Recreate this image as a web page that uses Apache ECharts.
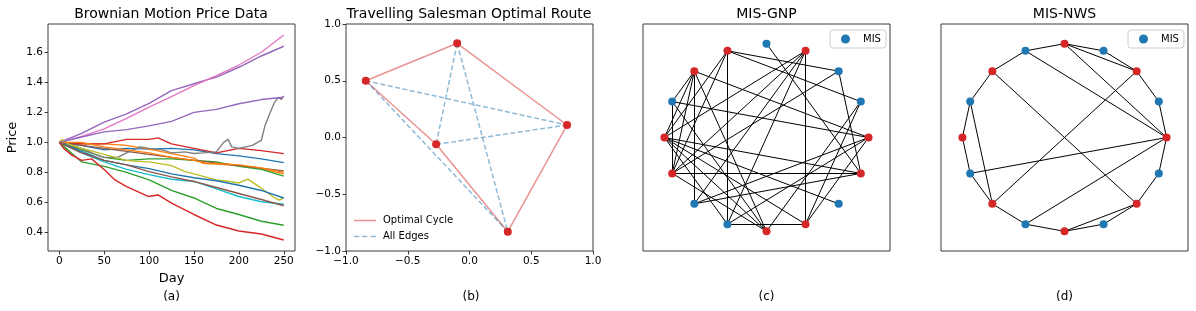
<!DOCTYPE html>
<html>
<head>
<meta charset="utf-8">
<script src="https://cdn.jsdelivr.net/npm/echarts@6/dist/echarts.min.js"></script>
<style>html,body{margin:0;padding:0;background:#fff;}#c{width:1196px;height:311px;}</style>
</head>
<body>
<div id="c"></div>
<script>
// ---------- Panel (a): Brownian motion price paths, [day, price] ----------
const xTicksA = [0, 50, 100, 150, 200, 250];
const yTicksA = [0.4, 0.6, 0.8, 1.0, 1.2, 1.4, 1.6];
const blueUpper = [[0,1.0],[10,0.99],[25,0.98],[50,0.95],[75,0.96],[100,0.955],[125,0.96],[150,0.95],[175,0.925],[200,0.91],[225,0.89],[250,0.865]];
const orangeA = [[0,1.0],[25,0.99],[50,0.99],[75,0.98],[100,0.955],[125,0.925],[150,0.895],[160,0.86],[175,0.855],[200,0.845],[225,0.825],[250,0.79]];
const greenUpper = [[0,1.0],[25,0.95],[50,0.9],[75,0.88],[100,0.89],[125,0.89],[150,0.88],[175,0.87],[200,0.84],[225,0.82],[250,0.775]];
const redUpper = [[0,1.0],[25,0.99],[50,0.99],[75,1.02],[100,1.02],[110,1.03],[125,0.99],[150,0.96],[175,0.93],[200,0.96],[225,0.945],[250,0.925]];
const purpleUpper = [[0,1.0],[25,1.06],[50,1.135],[75,1.19],[100,1.26],[125,1.345],[150,1.39],[175,1.435],[200,1.5],[225,1.575],[250,1.64]];
const brownUpper = [[0,1.0],[50,0.96],[100,0.92],[150,0.88],[200,0.845],[250,0.81]];
const pinkA = [[0,1.0],[25,1.04],[50,1.09],[75,1.16],[100,1.235],[125,1.305],[150,1.378],[175,1.444],[200,1.515],[225,1.6],[250,1.715]];
const grayA = [[0,1.0],[10,0.98],[25,0.96],[40,0.92],[50,0.9],[65,0.9],[75,0.93],[90,0.97],[100,0.96],[115,0.95],[125,0.93],[140,0.937],[150,0.926],[160,0.93],[175,0.937],[183,1.0],[188,1.02],[192,0.97],[200,0.96],[215,0.98],[225,1.014],[229,1.11],[235,1.2],[240,1.27],[244,1.3],[247,1.285],[250,1.31]];
const oliveA = [[0,1.0],[3,1.02],[10,0.99],[25,0.96],[50,0.92],[75,0.88],[85,0.875],[100,0.87],[125,0.845],[140,0.805],[150,0.79],[175,0.75],[190,0.74],[200,0.73],[210,0.755],[225,0.695],[240,0.63],[245,0.615],[250,0.63]];
const cyanA = [[0,1.0],[25,0.93],[50,0.87],[75,0.82],[100,0.785],[125,0.755],[150,0.74],[175,0.69],[200,0.64],[225,0.605],[250,0.588]];
const blueLower = [[0,1.0],[25,0.94],[50,0.88],[75,0.85],[100,0.825],[125,0.79],[150,0.765],[175,0.745],[200,0.715],[225,0.68],[250,0.63]];
const orangeB = [[0,1.0],[25,1.0],[50,0.97],[75,0.95],[100,0.93],[125,0.9],[150,0.88],[165,0.86],[175,0.86],[200,0.85],[225,0.83],[250,0.8]];
const greenLower = [[0,1.0],[25,0.87],[50,0.84],[75,0.8],[100,0.75],[125,0.68],[150,0.63],[175,0.56],[200,0.52],[225,0.475],[250,0.448]];
const redLower = [[0,1.0],[5,0.96],[14,0.915],[25,0.88],[36,0.89],[51,0.815],[62,0.75],[75,0.705],[88,0.67],[99,0.64],[110,0.65],[125,0.596],[150,0.52],[175,0.45],[200,0.41],[225,0.39],[250,0.35]];
const purpleLower = [[0,1.0],[25,1.036],[50,1.07],[75,1.085],[100,1.11],[125,1.14],[150,1.2],[175,1.22],[200,1.257],[225,1.285],[250,1.3]];
const brownLower = [[0,1.0],[25,0.93],[50,0.88],[75,0.85],[100,0.805],[125,0.77],[150,0.74],[175,0.7],[200,0.66],[225,0.62],[250,0.578]];

// ---------- Panel (b): TSP cities ----------
const cityX = [-0.84, -0.10, 0.79, 0.31, -0.27];
const cityY = [0.50, 0.83, 0.11, -0.83, -0.06];
const optimalTour = [0, 1, 2, 3, 4, 0];
const otherEdges = [[0,2],[0,3],[1,4],[1,3],[4,2]];
const ticksB = [-1.0, -0.5, 0.0, 0.5, 1.0];

// ---------- Panels (c),(d): graphs on a circular layout ----------
const nodeCount = 16;
const misGNP = [1, 2, 4, 7, 10, 11, 14];
const edgesGNP = [[5,11],[3,13],[6,10],[7,9],[9,15],[11,13],[5,2],[5,1],[4,15],[2,15],[2,9],
  [6,7],[6,8],[6,9],[6,0],[6,12],[5,8],[5,9],[3,8],[3,9],[3,10],[3,11],[7,0],[7,12],
  [8,15],[8,14],[8,13],[8,12],[8,11],[1,12],[1,13],[13,0],[9,12],[10,0],[10,15],[11,0]];
const misNWS = [1, 3, 5, 7, 9, 11, 13, 15];
const edgesNWS = [[0,1],[1,2],[2,3],[3,4],[4,5],[5,6],[6,7],[7,8],[8,9],[9,10],[10,11],[11,12],[12,13],[13,14],[14,15],[15,0],
  [5,0],[4,0],[4,2],[2,10],[6,14],[7,10],[9,0],[11,0],[12,14]];

const C = {blue:'#1f77b4', orange:'#ff7f0e', green:'#2ca02c', red:'#d62728', purple:'#9467bd',
  brown:'#8c564b', pink:'#e377c2', gray:'#7f7f7f', olive:'#bcbd22', cyan:'#17becf'};
const FONT = 'DejaVu Sans';
const TXT = '#000';
const SPINE = '#262626';
const RED_A = 'rgba(214,39,40,0.5)';
const BLUE_A = 'rgba(31,119,180,0.5)';

const pathsA = [
  [blueUpper, C.blue],[orangeA, C.orange],[greenUpper, C.green],[redUpper, C.red],[purpleUpper, C.purple],
  [brownUpper, C.brown],[pinkA, C.pink],[grayA, C.gray],[oliveA, C.olive],[cyanA, C.cyan],
  [blueLower, C.blue],[orangeB, C.orange],[greenLower, C.green],[redLower, C.red],[purpleLower, C.purple],[brownLower, C.brown]
];

// networkx-style circular layout
function circ(i){ const t = 2*Math.PI*i/nodeCount; return [Math.cos(t), Math.sin(t)]; }

function gridCfg(left){ return {left: left, top: 24, width: 247, height: 227, show: true, borderColor: SPINE, borderWidth: 0.9, backgroundColor: 'transparent', containLabel: false, outerBoundsMode: 'none'}; }
const fmt1 = v => (v < 0 ? '\u2212' : '') + Math.abs(v).toFixed(1);
function valAxis(idx, min, max, ticks, fmt, extra){
  return Object.assign({type:'value', gridIndex: idx, min: min, max: max,
    axisLine:{show:false, onZero:false}, splitLine:{show:false},
    axisTick:{show:true, length:3.5, lineStyle:{color:SPINE, width:0.9}, customValues: ticks},
    axisLabel:{show:true, customValues: ticks, formatter: fmt, color: TXT, fontFamily: FONT, fontSize: 10.5, margin: 5}}, extra||{});
}
function hiddenAxis(idx){ return {type:'value', gridIndex: idx, min: -1.21, max: 1.21, show: false, axisLine:{onZero:false}}; }

const series = [];
pathsA.forEach((p, i) => {
  series.push({type:'line', xAxisIndex:0, yAxisIndex:0, data:p[0], showSymbol:false, symbol:'none',
    lineStyle:{color:p[1], width:1.4}, itemStyle:{color:p[1]}, z: 2 + i*0.01, silent:true});
});

// panel (b)
series.push({type:'line', name:'Optimal Cycle', xAxisIndex:1, yAxisIndex:1,
  data: optimalTour.map(i => [cityX[i], cityY[i]]), symbol:'none', showSymbol:false,
  lineStyle:{color:RED_A, width:1.5}, itemStyle:{color:RED_A}, z:2});
otherEdges.forEach(e => {
  series.push({type:'line', name:'All Edges', xAxisIndex:1, yAxisIndex:1,
    data: e.map(i => [cityX[i], cityY[i]]), symbol:'none', showSymbol:false,
    lineStyle:{color:BLUE_A, width:1.5, type:[5,2.5]}, itemStyle:{color:BLUE_A}, z:2});
});
series.push({type:'scatter', name:'Cities', xAxisIndex:1, yAxisIndex:1,
  data: cityX.map((x, i) => [x, cityY[i]]), symbolSize: 8, itemStyle:{color:C.red, opacity:1}, z:5});

function graphSeries(ax, edges, mis){
  series.push({type:'lines', coordinateSystem:'cartesian2d', xAxisIndex:ax, yAxisIndex:ax,
    data: edges.map(e => ({coords:[circ(e[0]), circ(e[1])]})),
    lineStyle:{color:'#000', width:1, opacity:1, curveness:0}, z:2, silent:true});
  const misPts = [], restPts = [];
  for (let i = 0; i < nodeCount; i++) { (mis.indexOf(i) >= 0 ? misPts : restPts).push(circ(i)); }
  series.push({type:'scatter', name:'MIS', xAxisIndex:ax, yAxisIndex:ax, data: misPts, symbolSize: 8,
    itemStyle:{color:C.blue, opacity:1}, z:5});
  series.push({type:'scatter', name:'Rest', xAxisIndex:ax, yAxisIndex:ax, data: restPts, symbolSize: 8,
    itemStyle:{color:C.red, opacity:1}, z:5});
}
graphSeries(2, edgesGNP, misGNP);
graphSeries(3, edgesNWS, misNWS);

function txt(text, x, y, size, rot){
  return {type:'text', x:x, y:y, rotation: rot||0, silent:true,
    style:{text:text, fill:TXT, font: size + 'px "' + FONT + '"', align:'center', verticalAlign:'middle'}};
}
function misLegend(left){
  return {data:[{name:'MIS', icon:'circle'}], left:left, top:30, orient:'horizontal', selectedMode:false,
    itemWidth:9, itemHeight:9, padding:[4,5,4,11], borderColor:'#cccccc', borderWidth:1, borderRadius:3,
    backgroundColor:'#fff', textStyle:{fontFamily:FONT, fontSize:10, color:TXT, padding:[0,0,0,8]}};
}
// legend glyphs: a solid stroke and a dashed stroke (as thin bars)
const solidIcon = 'path://M0,0h22v1.5h-22z';
const dashedIcon = 'path://M0,0h5.5v1.5h-5.5z M8,0h5.5v1.5h-5.5z M16.5,0h5.5v1.5h-5.5z';

const option = {
  animation:false,
  backgroundColor:'#fff',
  grid:[gridCfg(48), gridCfg(346), gridCfg(643), gridCfg(941)],
  xAxis:[
    valAxis(0, -12.5, 262.5, xTicksA, v => String(v)),
    valAxis(1, -1, 1, ticksB, fmt1, {interval:0.5}),
    hiddenAxis(2), hiddenAxis(3)
  ],
  yAxis:[
    valAxis(0, 0.277, 1.788, yTicksA, v => v.toFixed(1)),
    valAxis(1, -1, 1, ticksB, fmt1, {interval:0.5}),
    hiddenAxis(2), hiddenAxis(3)
  ],
  legend:[
    {data:[{name:'Optimal Cycle', icon: solidIcon, itemStyle:{color:RED_A}},
           {name:'All Edges', icon: dashedIcon, itemStyle:{color:BLUE_A}}],
     orient:'vertical', left:354, top:215, selectedMode:false,
     itemWidth:22, itemHeight:1.5, itemGap:5, padding:0,
     textStyle:{fontFamily:FONT, fontSize:10, color:TXT, lineHeight:11, padding:[0,0,0,2]}},
    misLegend(830), misLegend(1128)
  ],
  graphic:{elements:[
    txt('Brownian Motion Price Data', 171, 14, 14),
    txt('Travelling Salesman Optimal Route', 469, 14, 14),
    txt('MIS-GNP', 766.5, 14, 14),
    txt('MIS-NWS', 1064.5, 14, 14),
    txt('Price', 13, 137.5, 13, Math.PI/2),
    txt('Day', 171.5, 278.5, 13),
    txt('(a)', 171.5, 297, 12),
    txt('(b)', 471, 297, 12),
    txt('(c)', 766.5, 297, 12),
    txt('(d)', 1064.5, 297, 12)
  ]},
  series: series
};
const chart = echarts.init(document.getElementById('c'), null, {renderer:'canvas'});
chart.setOption(option);
</script>
</body>
</html>
